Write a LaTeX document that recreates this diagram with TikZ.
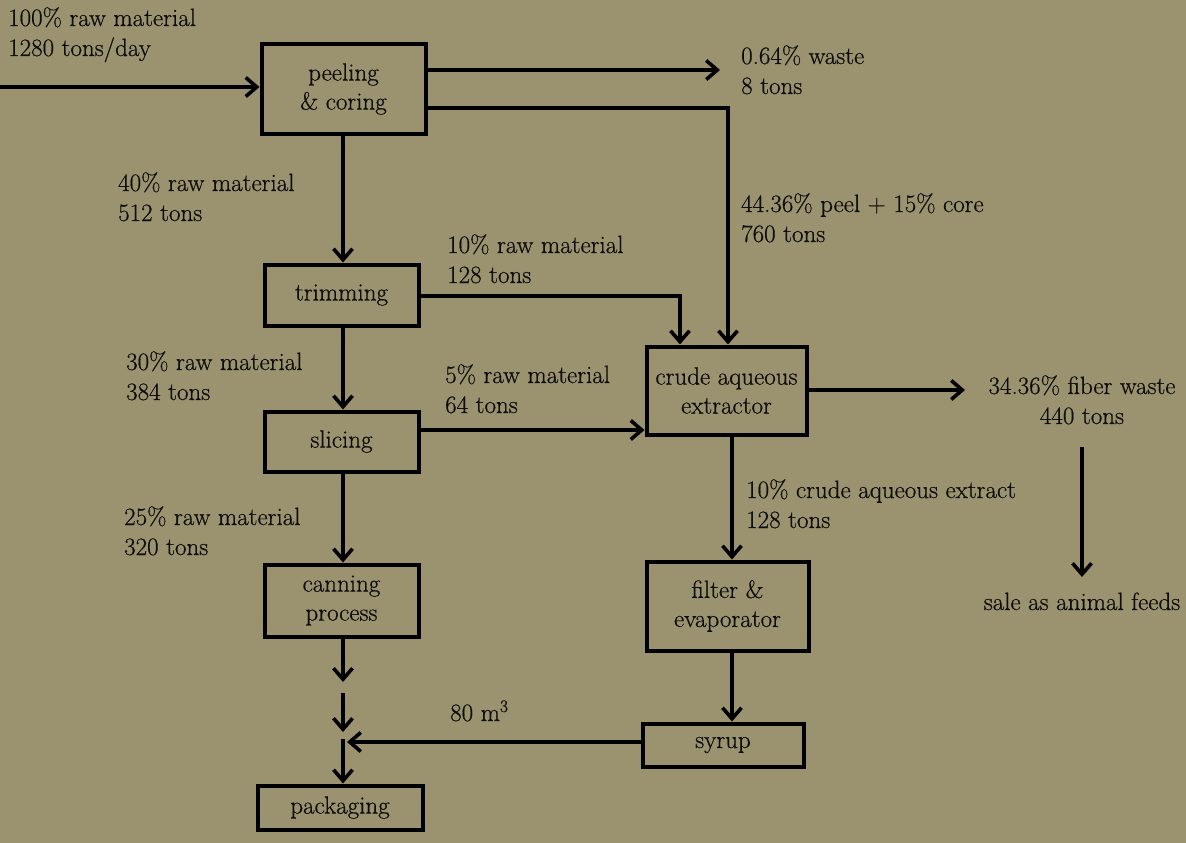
\documentclass[tikz,border=0pt]{standalone}
\usepackage{fontspec}
\setmainfont{Latin Modern Roman}[FakeBold=0.6]
\usetikzlibrary{arrows.meta}
\definecolor{bgc}{RGB}{155,146,112}
\definecolor{txt}{RGB}{15,13,10}
\begin{document}
\begin{tikzpicture}[x=1pt,y=-1pt,
  box/.style={draw=black,line width=4pt,align=center,inner sep=0pt,text=txt,
    font=\fontsize{25}{29}\selectfont},
  lbl/.style={anchor=base west,inner sep=0pt,text=txt,font=\fontsize{25}{30}\selectfont},
  arr/.style={line width=3.6pt,-{Straight Barb[length=11pt,width=19pt,line width=3.6pt]}},
  ln/.style={line width=3.6pt}]
\fill[bgc] (0,0) rectangle (1186,843);
\useasboundingbox (0,0) rectangle (1186,843);
% boxes
\node[box,minimum width=164pt,minimum height=90pt] (peel) at (343.5,89) {peeling\\\& coring};
\node[box,minimum width=154pt,minimum height=61pt] (trim) at (341.5,295) {trimming};
\node[box,minimum width=154pt,minimum height=60pt] (slic) at (341.5,441.5) {slicing};
\node[box,minimum width=154pt,minimum height=72pt] (can) at (341.5,600.5) {canning\\process};
\node[box,minimum width=165pt,minimum height=44pt] (pack) at (340,807.5) {packaging};
\node[box,minimum width=160pt,minimum height=88pt] (crude) at (726.5,390.5) {crude aqueous\\extractor};
\node[box,minimum width=162pt,minimum height=89pt] (filt) at (727.5,606) {filter \&\\evaporator};
\node[box,minimum width=161pt,minimum height=43pt] (syrup) at (723,745) {syrup};
% labels
\node[lbl] (l1a) at (8,26) {100\% raw material};
\node[lbl] (l1b) at (8,56) {1280 tons/day};
\node[lbl] (l2a) at (741,64) {0.64\% waste};
\node[lbl] (l2b) at (741,94) {8 tons};
\node[lbl] (l3a) at (118,191) {40\% raw material};
\node[lbl] (l3b) at (118,221) {512 tons};
\node[lbl] (l4a) at (741,212) {44.36\% peel + 15\% core};
\node[lbl] (l4b) at (741,242) {760 tons};
\node[lbl] (l5a) at (447,253) {10\% raw material};
\node[lbl] (l5b) at (447,283) {128 tons};
\node[lbl] (l6a) at (126,370) {30\% raw material};
\node[lbl] (l6b) at (126,400) {384 tons};
\node[lbl] (l7a) at (445,383) {5\% raw material};
\node[lbl] (l7b) at (445,413) {64 tons};
\node[lbl,anchor=base] (l8a) at (1082,394) {34.36\% fiber waste};
\node[lbl,anchor=base] (l8b) at (1082,424) {440 tons};
\node[lbl] (l9a) at (746,498) {10\% crude aqueous extract};
\node[lbl] (l9b) at (746,528) {128 tons};
\node[lbl] (l10a) at (124,525) {25\% raw material};
\node[lbl] (l10b) at (124,555) {320 tons};
\node[lbl,anchor=base] (l11) at (1082,610) {sale as animal feeds};
\node[lbl] (l12) at (450,721) {80 m\textsuperscript{3}};
% coordinates
\coordinate (inS) at (0,87);
\coordinate (w1) at (720,70);
\coordinate (c1) at (728,108);
\coordinate (c2) at (680,296);
\coordinate (c3) at (0,430);
\coordinate (c4) at (0,390);
\coordinate (fw) at (965,390);
\coordinate (s1) at (1082,447);
\coordinate (s2) at (1082,577);
\coordinate (c5) at (732,0);
\coordinate (m) at (347,742);
\coordinate (d) at (343,0);
\coordinate (d1) at (343,682);
\coordinate (d2) at (343,693);
\coordinate (d3) at (343,732);
\coordinate (d4) at (343,739);
% connectors
\draw[arr] (inS) -- (peel.west |- inS);
\draw[arr] (peel.east |- w1) -- (w1);
\draw[arr] (peel.east |- c1) -- (c1) -- (c1 |- crude.north);
\draw[arr] (peel.south -| d) -- (trim.north -| d);
\draw[arr] (trim.east |- c2) -- (c2) -- (c2 |- crude.north);
\draw[arr] (trim.south -| d) -- (slic.north -| d);
\draw[arr] (slic.east |- c3) -- (crude.west |- c3);
\draw[arr] (slic.south -| d) -- (can.north -| d);
\draw[arr] (crude.east |- c4) -- (fw);
\draw[arr] (s1) -- (s2);
\draw[arr] (crude.south -| c5) -- (filt.north -| c5);
\draw[arr] (filt.south -| c5) -- (syrup.north -| c5);
\draw[arr] (syrup.west |- m) -- (m);
\draw[arr] (can.south -| d) -- (d1);
\draw[arr] (d2) -- (d3);
\draw[arr] (d4) -- (pack.north -| d);
\end{tikzpicture}
\end{document}
